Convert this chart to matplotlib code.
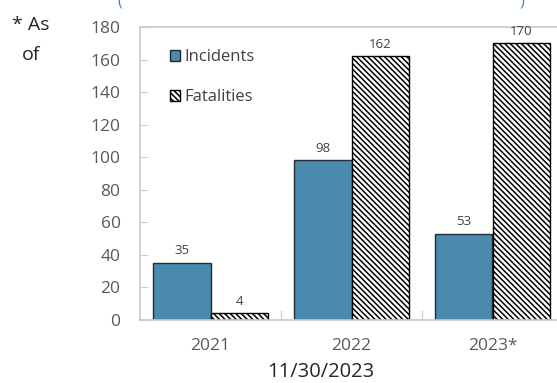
import matplotlib
matplotlib.use("Agg")
import matplotlib.pyplot as plt
import numpy as np

plt.rcParams['font.family'] = ['Open Sans', 'DejaVu Sans']
plt.rcParams['hatch.linewidth'] = 1.1

years = ["2021", "2022", "2023*"]
incidents = [35, 98, 53]
fatalities = [4, 162, 170]
y_ticks = [0, 20, 40, 60, 80, 100, 120, 140, 160, 180]

W, H = 557, 383
fig = plt.figure(figsize=(W / 100, H / 100), dpi=100)
ax = fig.add_axes([140 / W, (H - 320) / H, (563 - 140) / W, (320 - 27) / H])

x = np.arange(len(years))
bw = 0.41
b1 = ax.bar(x - bw / 2, incidents, bw, color='#4a8aad', edgecolor='#1e2f38',
            linewidth=1.0, label='Incidents', zorder=2)
b2 = ax.bar(x + bw / 2, fatalities, bw, color='white', edgecolor='black',
            hatch='\\\\\\\\\\\\', linewidth=1.0, label='Fatalities', zorder=2)

for bars, vals in ((b1, incidents), (b2, fatalities)):
    for r, v in zip(bars, vals):
        ax.text(r.get_x() + r.get_width() / 2, v + 3.5, str(v), ha='center',
                va='bottom', fontsize=9.5, color='#404040')

ax.set_xlim(-0.5, 2.5)
ax.set_ylim(0, 180)
ax.set_yticks(y_ticks)
ax.set_xticks(x)
ax.set_xticklabels(years)
ax.set_xticks([0.5, 1.5], minor=True)
ax.tick_params(axis='x', which='major', length=0, pad=13, labelsize=12.5,
               labelcolor='#595959')
ax.tick_params(axis='x', which='minor', direction='in', length=7,
               color='#d0d0d0', width=1)
ax.tick_params(axis='y', direction='in', length=6, color='#d0d0d0',
               labelsize=12.5, labelcolor='#595959', pad=14)
for s in ('left', 'bottom', 'top'):
    ax.spines[s].set_color('#c8c8c8')
    ax.spines[s].set_linewidth(1.2)
ax.spines['right'].set_visible(False)

leg = ax.legend(loc='upper left', bbox_to_anchor=(0.035, 0.975), frameon=False,
                fontsize=12, handlelength=0.6, handleheight=0.6,
                handletextpad=0.3, labelspacing=1.45, labelcolor='#404040')

fig.text(12 / W, 1 - 25 / H, "* As", fontsize=14, color='#262626', va='center')
fig.text(22 / W, 1 - 55 / H, "of", fontsize=14, color='#262626', va='center')
fig.text(321 / W, 1 - 372 / H, "11/30/2023", fontsize=14.5, color='#262626',
         ha='center', va='center')
fig.text(120 / W, 1 - 2 / H, "(", fontsize=12, color='#4a86c5', ha='center', va='center')
fig.text(522 / W, 1 - 2 / H, ")", fontsize=12, color='#4a86c5', ha='center', va='center')

fig.savefig("out.png", dpi=100)
